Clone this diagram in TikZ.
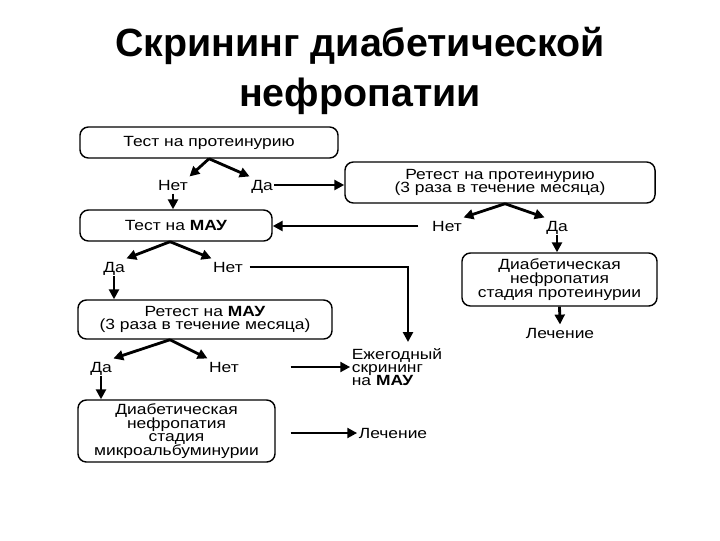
\documentclass[tikz,border=0pt]{standalone}
\usepackage{fontspec}
\setmainfont{Liberation Sans}
\newfontfamily\bodyfont[FakeStretch=1.18]{Liberation Sans}
\usetikzlibrary{positioning, calc, arrows.meta}

\begin{document}
\begin{tikzpicture}[
        x=0.025cm, y=-0.025cm,
        box/.style={draw, rounded corners=6pt, line width=1pt, align=center, inner sep=0pt, font=\bodyfont\fontsize{10.5}{9.8}\selectfont},
        lbl/.style={inner sep=1pt, text height=1.6ex, text depth=0.25ex, font=\bodyfont\fontsize{10.5}{9.5}\selectfont},
        arr/.style={line width=2pt, -{Triangle[length=7pt, width=7pt]}}
    ]
        \useasboundingbox (0,0) rectangle (720,540);
        % Title
        \node[font=\bfseries\fontsize{28}{35.6}\selectfont, align=center] (title) at (360,71) {Скрининг диабетической\\нефропатии};

        % Boxes
        \node[box, minimum width=6.45cm, minimum height=0.775cm] (tp) at (209,142.5) {Тест на протеинурию};
        \node[box, minimum width=7.75cm, minimum height=1.025cm] (rp) at (500,182.5) {Ретест на протеинурию\\(3 раза в течение месяца)};
        \node[box, minimum width=4.8cm, minimum height=0.775cm] (tm) at (176,225.5) {Тест на \textbf{МАУ}};
        \node[box, minimum width=4.875cm, minimum height=1.325cm] (dp) at (559.5,279.5) {Диабетическая\\нефропатия\\стадия протеинурии};
        \node[box, minimum width=6.35cm, minimum height=0.975cm] (rm) at (205,319.5) {Ретест на \textbf{МАУ}\\(3 раза в течение месяца)};
        \node[box, minimum width=4.925cm, minimum height=1.55cm] (dm) at (176.5,431) {Диабетическая\\нефропатия\\стадия\\микроальбуминурии};

        % Labels
        \node[lbl] (no1) at (173,185) {Нет};
        \node[lbl] (yes1) at (262,185) {Да};
        \node[lbl] (no2) at (447,226) {Нет};
        \node[lbl] (yes2) at (557,226) {Да};
        \node[lbl] (cure1) at (560,333) {Лечение};
        \node[lbl] (yes3) at (114,267) {Да};
        \node[lbl] (no3) at (228,267) {Нет};
        \node[lbl, align=left, text height=, text depth=] (annual) at (397,367) {Ежегодный\\скрининг\\на \textbf{МАУ}};
        \node[lbl] (yes4) at (101,367) {Да};
        \node[lbl] (no4) at (224,367) {Нет};
        \node[lbl] (cure2) at (393,433) {Лечение};
        \coordinate (drop) at (408,342);

        % Edges
        \draw[arr] (tp.south) -- (no1.north east);
        \draw[arr] (tp.south) -- (yes1.north west);
        \draw[arr] (yes1.east) -- (yes1.east -| rp.west);
        \draw[arr] (no1.south) -- (no1.south |- tm.north);
        \draw[arr] ($(rp.south)+(5,0)$) -- (no2.north east);
        \draw[arr] ($(rp.south)+(5,0)$) -- (yes2.north west);
        \draw[arr] ($(no2.west)+(-12,0)$) -- (no2.west -| tm.east);
        \draw[arr] (yes2.south) -- (yes2.south |- dp.north);
        \draw[arr] (dp.south) -- (cure1.north);
        \draw[arr] ($(tm.south)+(-6,0)$) -- (yes3.north east);
        \draw[arr] ($(tm.south)+(-6,0)$) -- (no3.north west);
        \draw[arr] ($(no3.east)+(5,0)$) -| (drop);
        \draw[arr] (yes3.south) -- (yes3.south |- rm.north);
        \draw[arr] ($(rm.south)+(-35,0)$) -- (yes4.north east);
        \draw[arr] ($(rm.south)+(-35,0)$) -- (no4.north west);
        \draw[arr] ($(no4.east)+(50,0)$) -- (annual.west);
        \draw[arr] (yes4.south) -- (yes4.south |- dm.north);
        \draw[arr] ($(cure2.west -| dm.east)+(15,0)$) -- (cure2.west);
    \end{tikzpicture}
\end{document}
